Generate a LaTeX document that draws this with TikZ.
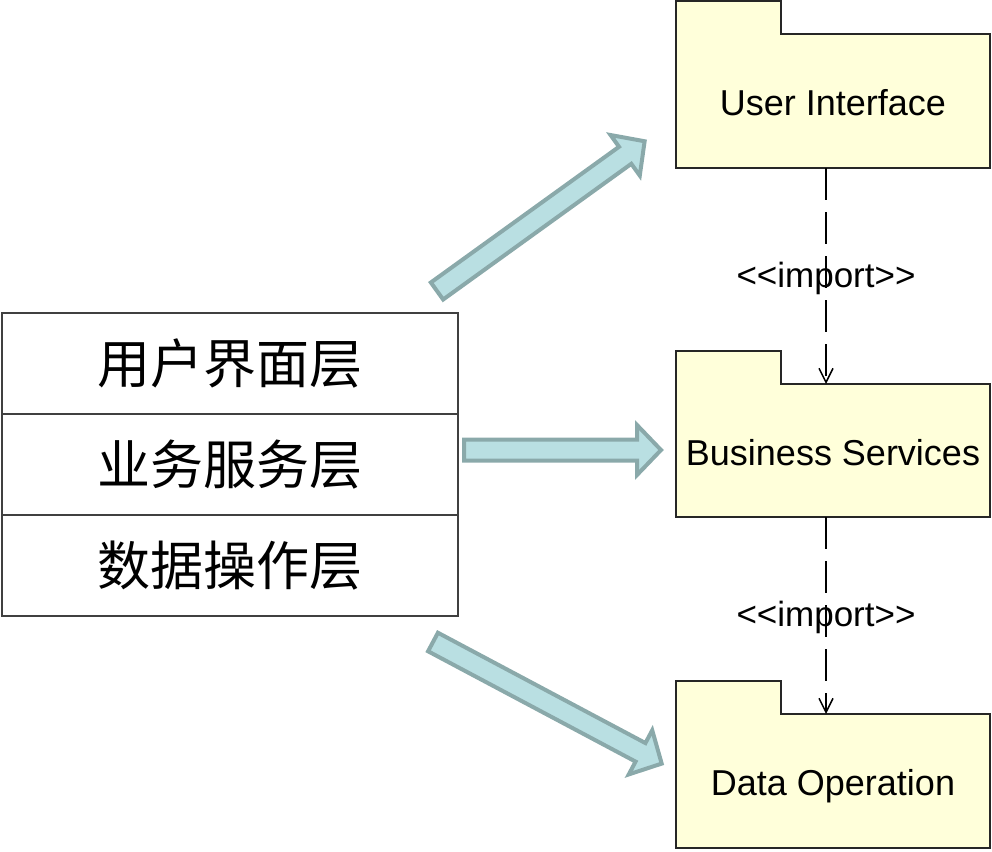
\documentclass[tikz,border=0pt]{standalone}
\usepackage{fontspec}
\setmainfont{Liberation Sans}
\newfontfamily\cjk{Noto Sans CJK SC}
\usetikzlibrary{positioning,arrows.meta}
\definecolor{pkgfill}{RGB}{255,255,218}
\definecolor{arrowfill}{RGB}{185,223,226}
\definecolor{arrowdraw}{RGB}{138,169,170}
\tikzset{
	layer/.style={draw=black!75, line width=1.5pt, outer sep=0pt, inner sep=0pt,
		minimum width=456pt, minimum height=101pt, font=\cjk\fontsize{53}{53}\selectfont},
	pkg/.style={draw=black!85, line width=2pt, fill=pkgfill, outer sep=0pt, inner sep=0pt,
		minimum width=314pt, minimum height=134pt, text height=36pt, text depth=7pt,
		font=\fontsize{36}{36}\selectfont},
	import/.style={line width=1.5pt, dash pattern=on 32pt off 12pt,
		-{Straight Barb[length=14pt,width=14pt]}},
	importlabel/.style={font=\fontsize{35}{35}\selectfont, inner sep=0pt, yshift=-2pt},
	blockarrow/.style={draw=arrowdraw, fill=arrowfill, line width=4pt, line join=miter},
}
\begin{document}
\begin{tikzpicture}[x=1pt, y=-1pt]
	\useasboundingbox (0,0) rectangle (992,851);
	% three layers
	\node[layer] (layerUI) at (230,363.5) {用户界面层};
	\node[layer, below=0pt of layerUI] (layerBS) {业务服务层};
	\node[layer, below=0pt of layerBS] (layerDO) {数据操作层};
	% packages
	\node[pkg] (pkgUI) at (833,101) {User Interface};
	\node[pkg, minimum height=133pt] (pkgBS) at (833,450.5) {Business Services};
	\node[pkg] (pkgDO) at (833,781) {Data Operation};
	\foreach \p in {pkgUI,pkgBS,pkgDO} {
		\fill[pkgfill] ([shift={(1,1.5)}]\p.north west) rectangle ++(103,-35.5);
		\draw[draw=black!85, line width=2pt] (\p.north west) -- ++(0,-33) -- ++(105,0) -- ++(0,33);
	}
	% import dependencies
	\draw[import] ([xshift=-7pt]pkgUI.south) -- ([xshift=-7pt]pkgBS.north)
		node[midway, importlabel] {<{}<import>{}>};
	\draw[import] ([xshift=-7pt]pkgBS.south) -- ([xshift=-7pt]pkgDO.north)
		node[midway, importlabel] {<{}<import>{}>};
	% block arrows
	\foreach \x/\y/\a/\len in {437/291/35.8/256, 464/450/0/197, 433/642/-28/259}
		\draw[blockarrow, shift={(\x,\y)}, rotate=\a] (0,-10.5) -- (\len-24,-10.5) -- (\len-24,-25)
			-- (\len,0) -- (\len-24,25) -- (\len-24,10.5) -- (0,10.5) -- cycle;
\end{tikzpicture}
\end{document}
